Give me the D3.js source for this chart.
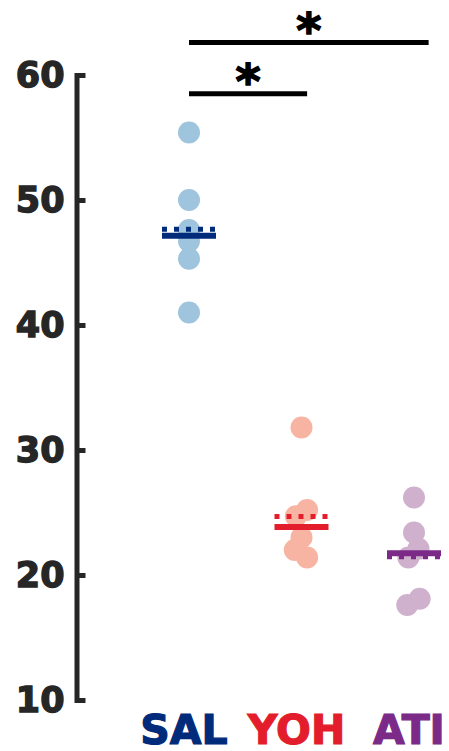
<!DOCTYPE html>
<html>
<head>
<meta charset="utf-8">
<script src="https://cdn.jsdelivr.net/npm/d3@7"></script>
<style>
  html, body { margin: 0; padding: 0; background: #fff; }
  svg { display: block; }
</style>
</head>
<body>
<svg id="chart" width="449" height="751"></svg>
<script>
// ---- data ----
const categories = ["SAL", "YOH", "ATI"];
const salValues = [55.4, 50.0, 47.6, 46.7, 45.3, 41.0];
const yohValues = [31.8, 25.2, 24.7, 23.0, 22.0, 21.4];
const atiValues = [26.2, 23.4, 22.1, 21.4, 18.1, 17.6];
// small horizontal jitter of each point, in category units
const salJitter = [0, 0, 0, 0, 0, 0];
const yohJitter = [0, 0.05, -0.05, 0, -0.06, 0.05];
const atiJitter = [0, 0, 0.04, -0.05, 0.05, -0.06];
const yTicks = [10, 20, 30, 40, 50, 60];
// significance comparisons: from/to in category index units, level value on y axis
const sigFrom = [0, 0];
const sigTo = [1.05, 2.13];
const sigLevel = [58.5, 62.6];
const sigLabel = ["*", "*"];

const pointColors = ["#9fc4dd", "#f8b4a2", "#cfb1cd"];
const lineColors = ["#002a7a", "#e31d2b", "#7b2a88"];

const series = [salValues, yohValues, atiValues];
const jitters = [salJitter, yohJitter, atiJitter];

const FONT = "'DejaVu Sans', Verdana, sans-serif";

// ---- scales ----
const svg = d3.select("#chart");
const x = d3.scaleLinear().domain([0, 2]).range([189, 414]);
const y = d3.scaleLinear().domain([10, 60]).range([700, 75]);

// ---- axis ----
const axis = d3.axisLeft(y).tickValues(yTicks).tickSizeInner(-9).tickSizeOuter(0).tickPadding(12);
const gAxis = svg.append("g").attr("transform", "translate(76.5,0)").call(axis);
gAxis.select(".domain").attr("stroke", "#262626").attr("stroke-width", 5).attr("stroke-linecap", "square");
gAxis.selectAll(".tick line").attr("stroke", "#262626").attr("stroke-width", 5);
gAxis.selectAll(".tick text")
  .attr("fill", "#262626")
  .attr("stroke", "#262626")
  .attr("stroke-width", 1.4)
  .style("font-family", FONT)
  .style("font-weight", "bold")
  .style("font-size", "35px");

// ---- points ----
series.forEach((vals, i) => {
  svg.append("g").selectAll("circle")
    .data(vals)
    .join("circle")
    .attr("cx", (d, j) => x(i + jitters[i][j]))
    .attr("cy", d => y(d))
    .attr("r", 11)
    .attr("fill", pointColors[i]);
});

// ---- median (solid) and mean (dotted) lines ----
const halfW = 27;
series.forEach((vals, i) => {
  const med = d3.median(vals);
  const mn = d3.mean(vals);
  svg.append("line")
    .attr("x1", x(i) - halfW).attr("x2", x(i) + halfW)
    .attr("y1", y(med)).attr("y2", y(med))
    .attr("stroke", lineColors[i]).attr("stroke-width", 6);
  svg.append("line")
    .attr("x1", x(i) - halfW).attr("x2", x(i) + halfW)
    .attr("y1", y(mn)).attr("y2", y(mn))
    .attr("stroke", lineColors[i]).attr("stroke-width", 5)
    .attr("stroke-dasharray", "5,7");
});

// ---- significance bars ----
sigLevel.forEach((lv, k) => {
  svg.append("line")
    .attr("x1", x(sigFrom[k])).attr("x2", x(sigTo[k]))
    .attr("y1", y(lv)).attr("y2", y(lv))
    .attr("stroke", "#000").attr("stroke-width", 5);
  svg.append("text")
    .attr("x", (x(sigFrom[k]) + x(sigTo[k])) / 2)
    .attr("y", y(lv) + 4)
    .attr("text-anchor", "middle")
    .style("font-family", FONT)
    .style("font-weight", "bold")
    .style("font-size", "48px")
    .attr("fill", "#000")
    .attr("stroke", "#000")
    .attr("stroke-width", 1.5)
    .text(sigLabel[k]);
});

// ---- category labels ----
svg.append("g").selectAll("text")
  .data(categories)
  .join("text")
  .attr("x", (d, i) => x(i) - 5)
  .attr("y", 744)
  .attr("text-anchor", "middle")
  .style("font-family", FONT)
  .style("font-weight", "bold")
  .style("font-size", "41px")
  .attr("fill", (d, i) => lineColors[i])
  .attr("stroke", (d, i) => lineColors[i])
  .attr("stroke-width", 1.2)
  .text(d => d);
</script>
</body>
</html>
